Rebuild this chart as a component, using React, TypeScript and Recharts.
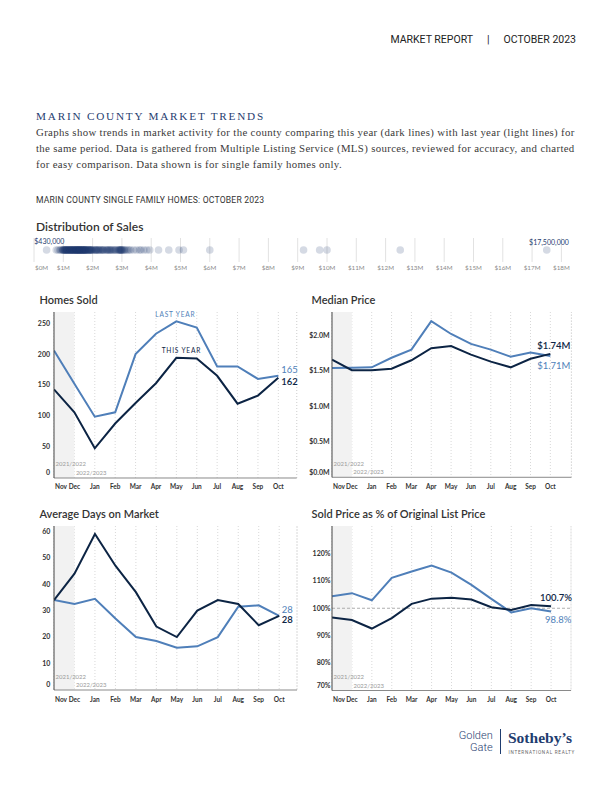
import React from 'react';
import {
  LineChart,
  Line,
  XAxis,
  YAxis,
  CartesianGrid,
  ReferenceArea,
  ReferenceLine,
  ScatterChart,
  Scatter,
} from 'recharts';

const MONTHS = ['Nov', 'Dec', 'Jan', 'Feb', 'Mar', 'Apr', 'May', 'Jun', 'Jul', 'Aug', 'Sep', 'Oct'];

const HOMES_SOLD_THIS = [143, 106, 48, 88, 121, 153, 194, 193, 165, 120, 133, 162];
const HOMES_SOLD_LAST = [206, 152, 99, 106, 200, 233, 253, 243, 180, 180, 160, 165];

const MEDIAN_THIS = [1.66, 1.51, 1.51, 1.53, 1.65, 1.82, 1.85, 1.73, 1.63, 1.55, 1.67, 1.74];
const MEDIAN_LAST = [1.54, 1.545, 1.55, 1.685, 1.8, 2.2, 2.02, 1.88, 1.8, 1.7, 1.76, 1.71];

const DAYS_THIS = [34, 44, 59, 47, 37, 24, 20, 30, 34, 32.5, 24.5, 28];
const DAYS_LAST = [34, 32.5, 34.5, 27, 20, 18.5, 16, 16.5, 20, 31.5, 32, 28];

const PCT_THIS = [96.6, 95.7, 92.6, 96.4, 101.6, 103.5, 103.8, 103.2, 100.4, 99.4, 101.2, 100.7];
const PCT_LAST = [104.4, 105.5, 102.9, 111.1, 113.4, 115.6, 113.0, 108.5, 103.4, 98.5, 100.0, 98.8];

// October sale prices, $M
const SALE_PRICES_M = [
  0.43, 0.76, 0.82, 0.88, 0.91, 0.95, 0.98, 0.99,
  1.0, 1.02, 1.03, 1.04, 1.05, 1.07, 1.08, 1.09, 1.1, 1.11, 1.12, 1.13, 1.14, 1.15, 1.17, 1.18, 1.19,
  1.2, 1.22, 1.23, 1.24, 1.25, 1.25, 1.26, 1.27, 1.29, 1.3, 1.31, 1.32, 1.33, 1.35, 1.35, 1.36, 1.37,
  1.38, 1.39, 1.4, 1.42, 1.43, 1.44, 1.45, 1.45, 1.46, 1.47, 1.48, 1.49, 1.5, 1.5, 1.52, 1.53, 1.54,
  1.55, 1.55, 1.56, 1.57, 1.58, 1.59, 1.6, 1.61, 1.62, 1.63, 1.64, 1.65, 1.66, 1.67, 1.68, 1.69, 1.7,
  1.71, 1.72, 1.73, 1.74, 1.75, 1.76, 1.77, 1.78, 1.79, 1.8, 1.82, 1.84, 1.85, 1.87, 1.88, 1.89, 1.9,
  1.92, 1.93, 1.95, 1.96, 1.97, 1.99,
  2.02, 2.05, 2.08, 2.1, 2.12, 2.13, 2.15, 2.19, 2.2, 2.22, 2.25, 2.28, 2.3, 2.34, 2.35, 2.37, 2.4,
  2.45, 2.48, 2.5, 2.52, 2.55, 2.58, 2.6, 2.62, 2.65, 2.68, 2.72, 2.75, 2.78, 2.8, 2.85, 2.88, 2.9,
  2.92, 2.93, 2.95, 2.96, 2.97, 2.99, 3.0, 3.02, 3.05, 3.08,
  3.1, 3.15, 3.2, 3.25, 3.3, 3.4, 3.5, 3.6, 3.65, 3.75, 3.85, 3.95,
  4.25, 4.6, 4.95, 5.1, 6.0, 9.2, 9.75, 10.0, 12.5, 17.5,
];
const PRICE_TICKS = [0, 1, 2, 3, 4, 5, 6, 7, 8, 9, 10, 11, 12, 13, 14, 15, 16, 17, 18];

const DARK = '#0c2444';
const LIGHT = '#4f7fb9';
const NAVY = '#1f3d70';

type EndLabel = { text: string; dx: number; dy: number; anchor: 'start' | 'middle' };
type Note = { text: string; index: number; dx: number; dy: number };

interface TrendProps {
  title: string;
  titleX: number;
  plot: { x: number; y: number; w: number; h: number };
  thisYear: number[];
  lastYear: number[];
  yDomain: [number, number];
  yTicks: number[];
  yFormat: (v: number) => string;
  yGap: number;
  xMax: number;
  thisEnd: EndLabel;
  lastEnd: EndLabel;
  thisNote?: Note;
  lastNote?: Note;
  refY?: number;
}

function TrendChart(p: TrendProps) {
  const data = MONTHS.map((m, i) => ({ i, month: m, thisYear: p.thisYear[i], lastYear: p.lastYear[i] }));
  const padL = 44;
  const padR = 24;
  const padT = 8;
  const axisH = 16;
  const padB = 6;
  const last = MONTHS.length - 1;

  const lineLabel = (end: EndLabel, color: string, weight: number, note?: Note) => (props: any) => {
    const { x, y, index } = props;
    if (index === last) {
      return (
        <text x={x + end.dx} y={y + end.dy + 3.2} textAnchor={end.anchor} fontSize={9.5} fill={color}
          fontWeight={weight} fontFamily="Lato">
          {end.text}
        </text>
      );
    }
    if (note && index === note.index) {
      return (
        <text x={x + note.dx} y={y + note.dy + 2.3} textAnchor="middle" fontSize={6.6} fill={color}
          letterSpacing={0.8} fontFamily="Lato">
          {note.text}
        </text>
      );
    }
    return <g />;
  };

  const seasonText = (text: string, up: number) => (lp: any) => (
    <text x={lp.viewBox.x + 1.5} y={lp.viewBox.y + lp.viewBox.height - up + 2}
      fontSize={6} fill="#9a9a9a" fontFamily="Lato">
      {text}
    </text>
  );

  return (
    <>
      <div style={{ position: 'absolute', left: p.titleX, top: p.plot.y - 19, fontFamily: 'Lato', fontSize: 11,
        fontWeight: 600, color: '#333', lineHeight: '14px', whiteSpace: 'nowrap' }}>
        {p.title}
      </div>
      <div style={{ position: 'absolute', left: p.plot.x - padL, top: p.plot.y - padT }}>
        <LineChart width={p.plot.w + padL + padR} height={p.plot.h + padT + axisH + padB} data={data}
          margin={{ top: padT, right: padR, bottom: padB, left: 0 }}>
          <ReferenceArea x1={0} x2={1} fill="#f2f2f2" fillOpacity={1} stroke="none" label={seasonText('2021/2022', 13.5)} />
          <ReferenceArea x1={1} x2={p.xMax} fillOpacity={0} stroke="none" label={seasonText('2022/2023', 5)} />
          <CartesianGrid vertical horizontal={false} stroke="#d8d8d8" strokeDasharray="1 2" />
          <ReferenceLine x={p.xMax} stroke="#d8d8d8" strokeDasharray="1 2" />
          {p.refY !== undefined && (
            <ReferenceLine y={p.refY} stroke="#9a9a9a" strokeDasharray="3 2" strokeWidth={0.8} />
          )}
          <XAxis dataKey="i" type="number" domain={[0, p.xMax]} ticks={MONTHS.map((_, i) => i)} interval={0}
            allowDataOverflow height={axisH} tickSize={0} tickMargin={0} tickLine={false}
            axisLine={{ stroke: '#8a8a8a' }}
            tick={(tp: any) => (
              <text x={tp.index === 0 ? tp.x + 1 : tp.x} y={tp.y + 11.5} textAnchor={tp.index === 0 ? 'start' : 'middle'}
                fontSize={6.5} fontWeight={700} fill="#333" fontFamily="Lato">
                {MONTHS[tp.payload.value]}
              </text>
            )} />
          <YAxis type="number" domain={p.yDomain} ticks={p.yTicks} interval={0} allowDataOverflow width={padL}
            tickSize={0} tickMargin={0} tickLine={false} axisLine={{ stroke: '#444' }}
            tick={(tp: any) => (
              <text x={tp.x - p.yGap} y={tp.y + 2.4 - (tp.payload.value === p.yDomain[0] ? 5 : 0)} textAnchor="end"
                fontSize={7} fontWeight={700} fill="#333" fontFamily="Lato">
                {p.yFormat(tp.payload.value)}
              </text>
            )} />
          <Line type="linear" dataKey="lastYear" stroke={LIGHT} strokeWidth={2} dot={false} isAnimationActive={false}
            label={lineLabel(p.lastEnd, LIGHT, 400, p.lastNote)} />
          <Line type="linear" dataKey="thisYear" stroke={DARK} strokeWidth={2} dot={false} isAnimationActive={false}
            label={lineLabel(p.thisEnd, DARK, 600, p.thisNote)} />
        </LineChart>
      </div>
    </>
  );
}

function Distribution() {
  const data = SALE_PRICES_M.map((price) => ({ price, row: 0.5 }));
  const left = 34.3;
  const plotW = 29.3 * 18;
  return (
    <>
      <div style={{ position: 'absolute', left: 36, top: 218.5, fontFamily: 'Lato', fontSize: 12, fontWeight: 600,
        color: '#333', lineHeight: '15px' }}>
        Distribution of Sales
      </div>
      <div style={{ position: 'absolute', left: left - 10, top: 238 }}>
        <ScatterChart width={plotW + 20} height={40} margin={{ top: 0, right: 10, bottom: 0, left: 10 }}>
          <CartesianGrid vertical horizontal={false} stroke="#e2e2e2" />
          <XAxis dataKey="price" type="number" domain={[0, 18]} ticks={PRICE_TICKS} interval={0} height={16}
            tickSize={0} tickMargin={0} axisLine={false} tickLine={false}
            tick={(tp: any) => (
              <text x={tp.index === 0 ? tp.x + 1 : tp.x} y={tp.y + 8} textAnchor={tp.index === 0 ? 'start' : 'middle'}
                fontSize={6.3} fill="#8a8a8a" fontFamily="Lato">
                {`$${tp.payload.value}M`}
              </text>
            )} />
          <YAxis dataKey="row" type="number" domain={[0, 1]} hide width={0} />
          <Scatter data={data} isAnimationActive={false}
            shape={(s: any) => <circle cx={s.cx} cy={s.cy} r={3.8} fill={NAVY} fillOpacity={0.19} />} />
        </ScatterChart>
      </div>
      <div style={{ position: 'absolute', left: 34.3, top: 237, fontFamily: 'Lato', fontSize: 7, color: NAVY,
        lineHeight: '9px' }}>
        $430,000
      </div>
      <div style={{ position: 'absolute', right: 612 - 568.8, top: 238, fontFamily: 'Lato', fontSize: 7, color: NAVY,
        lineHeight: '9px' }}>
        $17,500,000
      </div>
    </>
  );
}

export default function App() {
  return (
    <div style={{ position: 'absolute', left: 0, top: 0, width: 612, height: 792, background: '#fff', overflow: 'hidden' }}>
      <div style={{ position: 'absolute', right: 36, top: 33, fontFamily: 'Roboto', fontSize: 10.5, color: '#222',
        lineHeight: '14px', whiteSpace: 'nowrap' }}>
        MARKET REPORT<span style={{ margin: '0 14px' }}>|</span>OCTOBER 2023
      </div>

      <div style={{ position: 'absolute', left: 36, top: 109, fontFamily: 'Liberation Serif', fontSize: 11.2,
        letterSpacing: 1.8, color: NAVY, lineHeight: '14px', whiteSpace: 'nowrap' }}>
        MARIN COUNTY MARKET TRENDS
      </div>
      <div style={{ position: 'absolute', left: 36, top: 124, fontFamily: 'Liberation Serif', fontSize: 10.8,
        letterSpacing: 0.35, color: '#3a3a3a', lineHeight: '16px', whiteSpace: 'nowrap' }}>
        Graphs show trends in market activity for the county comparing this year (dark lines) with last year (light lines) for
        <br />
        the same period. Data is gathered from Multiple Listing Service (MLS) sources, reviewed for accuracy, and charted
        <br />
        for easy comparison. Data shown is for single family homes only.
      </div>
      <div style={{ position: 'absolute', left: 36, top: 195, fontFamily: 'Roboto', fontSize: 8.6, letterSpacing: 0.2,
        color: '#333', lineHeight: '10px', whiteSpace: 'nowrap' }}>
        MARIN COUNTY SINGLE FAMILY HOMES: OCTOBER 2023
      </div>

      <Distribution />

      <TrendChart title="Homes Sold" titleX={39.5} plot={{ x: 54.3, y: 311.7, w: 242.7, h: 166 }}
        thisYear={HOMES_SOLD_THIS} lastYear={HOMES_SOLD_LAST}
        yDomain={[0, 268]} yTicks={[0, 50, 100, 150, 200, 250]} yFormat={(v) => `${v}`} yGap={4} xMax={11.9}
        lastEnd={{ text: '165', dx: 3, dy: -5.5, anchor: 'start' }}
        thisEnd={{ text: '162', dx: 3, dy: 4, anchor: 'start' }}
        lastNote={{ text: 'LAST YEAR', index: 6, dx: -1, dy: -7 }}
        thisNote={{ text: 'THIS YEAR', index: 6, dx: 5, dy: -7 }} />

      <TrendChart title="Median Price" titleX={311.5} plot={{ x: 332.3, y: 311.7, w: 239.4, h: 165.3 }}
        thisYear={MEDIAN_THIS} lastYear={MEDIAN_LAST}
        yDomain={[0, 2.33]} yTicks={[0, 0.5, 1, 1.5, 2]} yFormat={(v) => `$${v.toFixed(1)}M`} yGap={2.3} xMax={12.06}
        lastEnd={{ text: '$1.71M', dx: 3.5, dy: 9.5, anchor: 'middle' }}
        thisEnd={{ text: '$1.74M', dx: 3.5, dy: -8.5, anchor: 'middle' }} />

      <TrendChart title="Average Days on Market" titleX={39.5} plot={{ x: 53.7, y: 526, w: 243, h: 164 }}
        thisYear={DAYS_THIS} lastYear={DAYS_LAST}
        yDomain={[0, 62]} yTicks={[0, 10, 20, 30, 40, 50, 60]} yFormat={(v) => `${v}`} yGap={3.7} xMax={11.87}
        lastEnd={{ text: '28', dx: 2.5, dy: -6, anchor: 'start' }}
        thisEnd={{ text: '28', dx: 2.5, dy: 4, anchor: 'start' }} />

      <TrendChart title="Sold Price as % of Original List Price" titleX={311.5}
        plot={{ x: 331.7, y: 526, w: 239, h: 164.5 }}
        thisYear={PCT_THIS} lastYear={PCT_LAST}
        yDomain={[70, 130]} yTicks={[70, 80, 90, 100, 110, 120]} yFormat={(v) => `${v}%`} yGap={1.5} xMax={12}
        refY={100}
        lastEnd={{ text: '98.8%', dx: 7, dy: 8.4, anchor: 'middle' }}
        thisEnd={{ text: '100.7%', dx: 5, dy: -8.7, anchor: 'middle' }} />

      <div style={{ position: 'absolute', right: 612 - 492.7, top: 729.5, fontFamily: 'Roboto', fontWeight: 300,
        fontSize: 11, color: NAVY, lineHeight: '12.5px', textAlign: 'right' }}>
        Golden
        <br />
        Gate
      </div>
      <div style={{ position: 'absolute', left: 500, top: 729, width: 1, height: 25, background: NAVY }} />
      <div style={{ position: 'absolute', left: 508, top: 729, fontFamily: 'Liberation Serif', fontWeight: 700,
        fontSize: 15.5, color: NAVY, lineHeight: '18px', whiteSpace: 'nowrap' }}>
        Sotheby’s
      </div>
      <div style={{ position: 'absolute', left: 508.5, top: 749.5, fontFamily: 'Roboto', fontSize: 4.6,
        letterSpacing: 0.75, color: '#666', lineHeight: '6px', whiteSpace: 'nowrap' }}>
        INTERNATIONAL REALTY
      </div>
    </div>
  );
}
